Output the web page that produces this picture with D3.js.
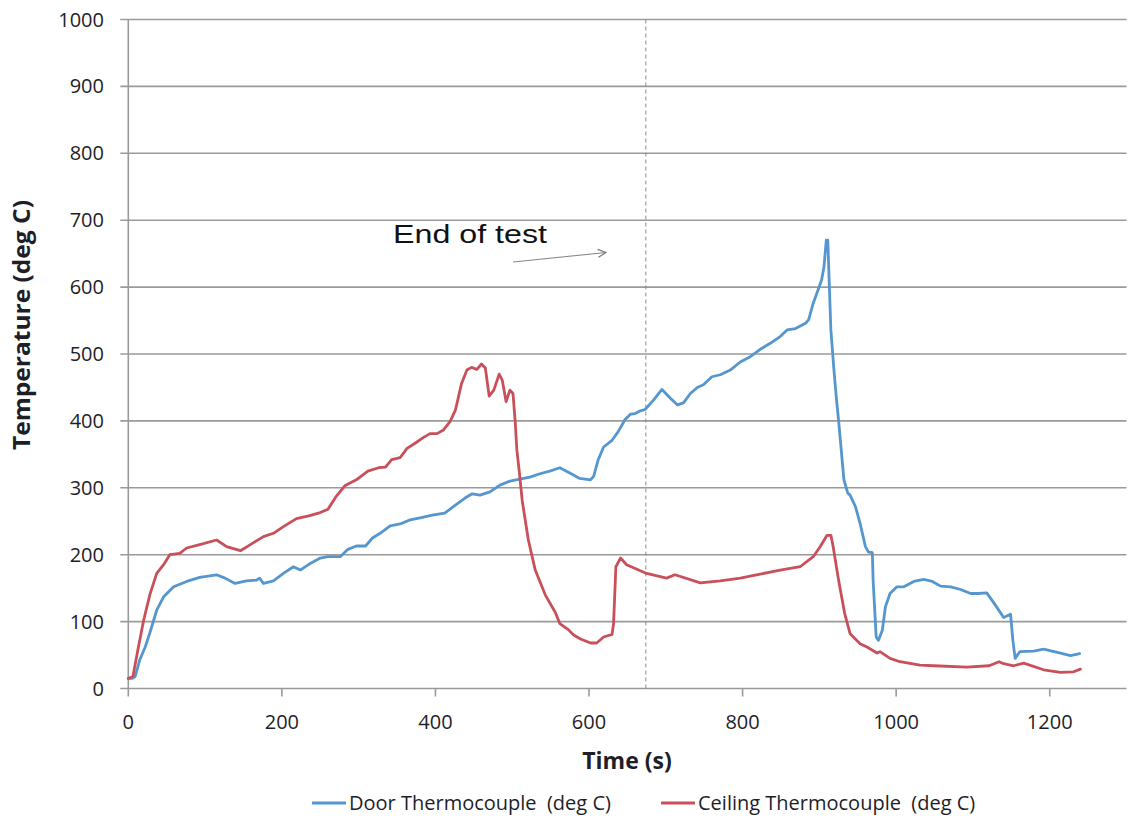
<!DOCTYPE html>
<html>
<head>
<meta charset="utf-8">
<script src="https://cdn.jsdelivr.net/npm/d3@7"></script>
<style>
  html, body { margin: 0; padding: 0; background: #fff; }
  svg { display: block; }
  text { white-space: pre; }
</style>
</head>
<body>
<svg id="chart" width="1128" height="823"></svg>
<script>
// Door thermocouple readings: time (s) and temperature (deg C)
const doorTime = [0,5,9,15,22,28,37,46,59,76,93,115,126,139,154,167,171,176,189,202,215,224,237,250,260,276,286,297,309,318,328,341,354,367,380,396,412,426,439,448,458,471,484,497,510,523,536,549,562,575,588,602,606,612,619,630,638,647,654,660,667,673,684,695,706,715,723,732,741,749,760,771,784,797,810,823,836,849,858,869,882,886,892,899,903,906,909,911,913,915,919,922,925,932,937,940,947,953,960,964,969,970,974,977,982,986,992,1001,1010,1023,1036,1047,1058,1071,1084,1097,1107,1118,1129,1140,1149,1152,1155,1161,1179,1192,1210,1227,1239];
const doorTemp = [15,15,18,43,62,83,117,137,152,160,166,170,165,157,161,162,165,157,161,172,182,177,187,195,197,197,208,213,213,225,232,243,246,252,255,259,262,274,285,291,289,294,304,310,313,316,321,325,330,322,314,312,317,342,361,371,384,402,410,411,415,417,431,447,434,424,427,441,450,454,466,469,476,488,496,507,516,526,536,538,546,551,576,598,611,630,670,670,601,536,476,436,401,312,292,289,272,247,212,204,203,162,77,72,87,122,142,152,152,160,163,160,153,152,148,142,142,143,125,106,111,72,45,55,56,59,54,49,52];

// Ceiling thermocouple readings: time (s) and temperature (deg C)
const ceilingTime = [0,6,12,20,28,37,46,54,67,76,93,115,128,146,159,176,189,202,219,235,250,260,270,282,297,312,326,335,343,354,363,374,384,393,402,410,419,426,434,441,447,454,460,465,470,476,483,487,492,497,501,504,506,509,513,521,530,543,556,562,573,580,589,602,610,619,630,632,635,641,649,675,701,712,745,771,797,823,849,875,892,901,910,915,918,925,933,940,953,962,975,979,992,1005,1031,1049,1092,1121,1134,1140,1153,1166,1192,1214,1231,1240];
const ceilingTemp = [15,18,55,102,140,172,185,200,202,210,215,222,212,206,215,227,232,242,254,258,263,268,286,303,312,325,330,331,342,345,359,367,375,381,381,386,399,416,456,476,480,477,485,479,437,446,470,461,429,446,441,397,357,326,281,222,177,140,114,97,88,80,74,68,68,77,81,97,182,195,185,172,165,170,158,161,165,171,177,182,197,212,229,229,212,162,112,82,67,62,53,55,45,40,35,34,32,34,40,37,34,38,28,24,25,29];

// Axis ticks
const xTicks = [0,200,400,600,800,1000,1200];
const yTicks = [0,100,200,300,400,500,600,700,800,900,1000];

// End-of-test marker time (s)
const endOfTest = 674;

const seriesNames = ["Door Thermocouple  (deg C)", "Ceiling Thermocouple  (deg C)"];
const seriesColors = ["#5596cf", "#c9505a"];

const svg = d3.select("#chart");
const plotLeft = 128.3, plotRight = 1126.5, plotTop = 19.5, plotBottom = 688.5;

const x = d3.scaleLinear().domain([0, 1300]).range([plotLeft, plotRight]);
const y = d3.scaleLinear().domain([0, 1000]).range([plotBottom, plotTop]);

const font = "'Open Sans', 'Liberation Sans', sans-serif";
const gridColor = "#9a9a9a";
const textColor = "#1e1e28";

// horizontal gridlines with short outward ticks
svg.append("g").selectAll("line")
  .data(yTicks)
  .join("line")
  .attr("x1", plotLeft - 8).attr("x2", plotRight)
  .attr("y1", d => y(d)).attr("y2", d => y(d))
  .attr("stroke", gridColor).attr("stroke-width", 1.6);

// y axis line
svg.append("line")
  .attr("x1", plotLeft).attr("x2", plotLeft)
  .attr("y1", plotTop).attr("y2", plotBottom + 8)
  .attr("stroke", gridColor).attr("stroke-width", 1.6);

// x axis ticks
svg.append("g").selectAll("line")
  .data(xTicks.filter(d => d > 0))
  .join("line")
  .attr("x1", d => x(d)).attr("x2", d => x(d))
  .attr("y1", plotBottom).attr("y2", plotBottom + 8)
  .attr("stroke", gridColor).attr("stroke-width", 1.6);

// y tick labels
svg.append("g").selectAll("text")
  .data(yTicks)
  .join("text")
  .attr("x", 104).attr("y", d => y(d))
  .attr("dy", "0.35em")
  .attr("text-anchor", "end")
  .attr("font-family", font).attr("font-size", 20)
  .attr("fill", textColor)
  .text(d => d);

// x tick labels
svg.append("g").selectAll("text")
  .data(xTicks)
  .join("text")
  .attr("x", d => x(d)).attr("y", 729)
  .attr("text-anchor", "middle")
  .attr("font-family", font).attr("font-size", 20)
  .attr("fill", textColor)
  .text(d => d);

// axis titles
svg.append("text")
  .attr("x", 627).attr("y", 769)
  .attr("text-anchor", "middle")
  .attr("font-family", font).attr("font-size", 23).attr("font-weight", "bold")
  .attr("fill", textColor)
  .text("Time (s)");

svg.append("text")
  .attr("transform", "translate(30,325) rotate(-90)")
  .attr("text-anchor", "middle")
  .attr("font-family", font).attr("font-size", 23).attr("font-weight", "bold")
  .attr("textLength", 250).attr("lengthAdjust", "spacingAndGlyphs")
  .attr("fill", textColor)
  .text("Temperature (deg C)");

// end-of-test dashed marker
svg.append("line")
  .attr("x1", x(endOfTest)).attr("x2", x(endOfTest))
  .attr("y1", plotTop).attr("y2", plotBottom)
  .attr("stroke", "#8a8a8a").attr("stroke-width", 1)
  .attr("stroke-dasharray", "4,3");

// data lines
const line = d3.line().x(d => x(d[0])).y(d => y(d[1]));
const series = [
  d3.zip(doorTime, doorTemp),
  d3.zip(ceilingTime, ceilingTemp)
];
svg.append("g").selectAll("path")
  .data(series)
  .join("path")
  .attr("d", line)
  .attr("fill", "none")
  .attr("stroke", (d, i) => seriesColors[i])
  .attr("stroke-width", 2.8)
  .attr("stroke-linejoin", "round")
  .attr("stroke-linecap", "round");

// annotation text and arrow
svg.append("text")
  .attr("x", 393).attr("y", 243)
  .attr("font-family", "'Liberation Sans', Arial, sans-serif")
  .attr("font-size", 26)
  .attr("textLength", 154).attr("lengthAdjust", "spacingAndGlyphs")
  .attr("fill", "#111")
  .text("End of test");

const defs = svg.append("defs");
defs.append("marker")
  .attr("id", "arrowHead")
  .attr("viewBox", "0 0 10 10")
  .attr("refX", 9).attr("refY", 5)
  .attr("markerWidth", 10).attr("markerHeight", 10)
  .attr("markerUnits", "userSpaceOnUse")
  .attr("orient", "auto")
  .append("path")
  .attr("d", "M1,1 L9,5 L1,9")
  .attr("fill", "none")
  .attr("stroke", "#777").attr("stroke-width", 1.2);

svg.append("line")
  .attr("x1", 513).attr("y1", 262)
  .attr("x2", 606).attr("y2", 252.5)
  .attr("stroke", "#888").attr("stroke-width", 1.1)
  .attr("marker-end", "url(#arrowHead)");

// legend
const legendX = [312, 661];
const legend = svg.append("g").selectAll("g")
  .data(seriesNames)
  .join("g")
  .attr("transform", (d, i) => `translate(${legendX[i]},803)`);
legend.append("line")
  .attr("x1", 0).attr("x2", 34)
  .attr("stroke", (d, i) => seriesColors[i])
  .attr("stroke-width", 2.8);
legend.append("text")
  .attr("x", 37).attr("dy", "0.35em")
  .attr("font-family", font).attr("font-size", 20)
  .attr("fill", textColor)
  .text(d => d);
</script>
</body>
</html>
